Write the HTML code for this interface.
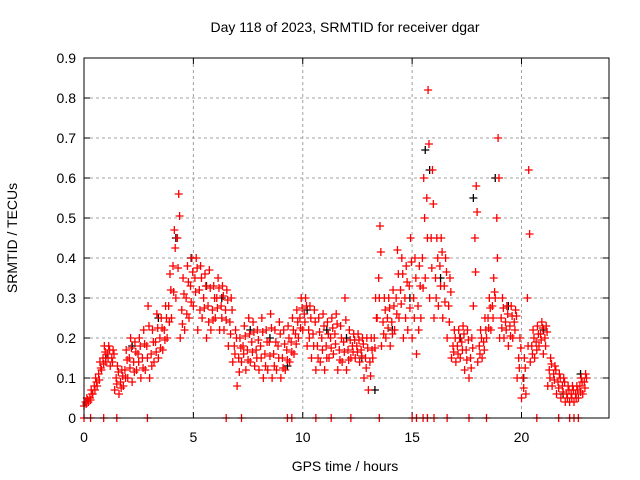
<!DOCTYPE html>
<html><head><meta charset="utf-8"><style>
body{margin:0;background:#fff;}
svg{display:block;font-family:"Liberation Sans",sans-serif;}
</style></head><body>
<svg id="chart" width="640" height="480" viewBox="0 0 640 480">
<rect x="0" y="0" width="640" height="480" fill="#fff"/>
<text x="345" y="32" font-size="14" text-anchor="middle">Day 118 of 2023, SRMTID for receiver dgar</text>
<text x="345" y="471" font-size="14" text-anchor="middle">GPS time / hours</text>
<text x="17" y="238" font-size="14" text-anchor="middle" transform="rotate(-90 17 238)">SRMTID / TECUs</text>
<g id="grid"></g><g id="ticks"></g><g id="black"></g><g id="red"></g>
<rect x="84" y="58" width="525" height="360" fill="none" stroke="#000" stroke-width="1"/>
</svg>
<script>
const xTicks=[0,5,10,15,20];
const yTicks=[0,0.1,0.2,0.3,0.4,0.5,0.6,0.7,0.8,0.9];
const yTickLabels=["0","0.1","0.2","0.3","0.4","0.5","0.6","0.7","0.8","0.9"];
const lo=[.03,.04,.06,.08,.12,.14,.13,.07,.06,.08,.10,.09,.12,.10,.12,.10,.14,.15,.17,.20,.25,.30,.20,.22,.25,.28,.22,.25,.20,.22,.25,.22,.22,.18,.14,.08,.14,.12,.14,.13,.12,.10,.12,.10,.12,.10,.12,.14,.16,.20,.22,.18,.15,.12,.14,.12,.15,.16,.12,.14,.12,.15,.15,.14,.10,.07,.15,.25,.18,.20,.18,.22,.25,.20,.22,.20,.16,.25,.35,.30,.25,.28,.25,.20,.15,.14,.15,.12,.10,.28,.14,.15,.20,.22,.30,.20,.20,.18,.20,.10,.05,.06,.14,.15,.18,.16,.08,.08,.06,.05,.04,.04,.04,.05,.06];
const mid=[.04,.05,.08,.11,.15,.16,.15,.10,.09,.12,.15,.14,.16,.15,.18,.16,.19,.20,.22,.28,.38,.45,.27,.30,.33,.35,.32,.30,.28,.27,.30,.28,.27,.24,.18,.15,.18,.17,.19,.17,.18,.16,.19,.16,.18,.15,.17,.19,.21,.25,.26,.22,.21,.18,.20,.18,.20,.21,.17,.19,.17,.18,.18,.17,.15,.14,.20,.35,.24,.25,.24,.30,.32,.30,.33,.30,.28,.40,.55,.45,.35,.38,.33,.28,.18,.18,.19,.17,.15,.45,.18,.19,.25,.28,.50,.25,.24,.23,.24,.15,.10,.30,.18,.19,.21,.20,.12,.11,.09,.08,.06,.06,.06,.08,.09];
const hi=[.05,.07,.10,.14,.18,.18,.17,.13,.12,.17,.20,.19,.20,.22,.28,.22,.26,.25,.28,.36,.47,.56,.35,.38,.40,.40,.38,.36,.37,.33,.35,.33,.32,.30,.22,.20,.23,.25,.24,.22,.25,.22,.26,.22,.24,.22,.23,.25,.27,.30,.30,.28,.27,.25,.26,.24,.25,.26,.23,.30,.22,.21,.21,.20,.20,.20,.30,.48,.30,.30,.32,.42,.40,.38,.45,.40,.38,.60,.82,.62,.45,.45,.40,.35,.22,.22,.23,.22,.20,.58,.22,.25,.30,.35,.70,.30,.28,.28,.27,.20,.15,.62,.22,.23,.24,.23,.15,.13,.11,.10,.08,.08,.08,.10,.11];
const zeroTimes=[0,0.3,0.9,1.5,2.9,6.5,7.2,9.3,9.5,10.6,11.3,12.2,13.5,15.0,15.2,15.5,15.7,16.0,16.6,17.6,18.4,20.7,21.7,22.2,22.4,22.6];
const blackT=[1,2.2,3.4,4.2,4.9,5.6,6.3,7.6,8.5,9.3,10.2,11.1,12.0,12.7,13.3,14.1,14.9,15.6,15.8,16.3,17.2,17.8,18.8,19.4,20.1,21.0,21.9,22.7];
const blackV=[.15,.18,.25,.45,.40,.33,.30,.22,.20,.13,.27,.22,.20,.15,.07,.22,.30,.67,.62,.35,.20,.55,.60,.28,.10,.22,.06,.11];
const x=t=>84+t*525/24, y=v=>418-v*400;
const NS="http://www.w3.org/2000/svg";
const grid=document.getElementById('grid'),ticks=document.getElementById('ticks');
function mk(p,tag,a){const e=document.createElementNS(NS,tag);for(const k in a)e.setAttribute(k,a[k]);p.appendChild(e);return e;}
xTicks.forEach(t=>{
 const g=mk(grid,'line',{x1:x(t),x2:x(t),y1:58,y2:418,stroke:'#a0a0a0','stroke-dasharray':'3,3'});
 
 
 mk(ticks,'line',{x1:x(t),x2:x(t),y1:418,y2:412,stroke:'#000'});
 mk(ticks,'line',{x1:x(t),x2:x(t),y1:58,y2:64,stroke:'#000'});
 const l=mk(ticks,'text',{x:x(t),y:442,'font-size':14,'text-anchor':'middle'});l.textContent=t;
 
 
});
yTicks.forEach((v,i)=>{
 const g=mk(grid,'line',{x1:84,x2:609,y1:y(v),y2:y(v),stroke:'#a0a0a0','stroke-dasharray':'3,3'});
 
 
 mk(ticks,'line',{x1:84,x2:90,y1:y(v),y2:y(v),stroke:'#000'});
 mk(ticks,'line',{x1:609,x2:603,y1:y(v),y2:y(v),stroke:'#000'});
 const l=mk(ticks,'text',{x:76,y:y(v)+5,'font-size':14,'text-anchor':'end'});l.textContent=yTickLabels[i];
 
 
});
function plus(p,t,v,c){
 const px=x(t),py=y(v);
 const e=mk(p,'path',{d:`M${px-4},${py}h8M${px},${py-4}v8`,stroke:c,'stroke-width':1.3,fill:'none'});
 
 
}
const bl=document.getElementById('black'),rd=document.getElementById('red');
blackT.forEach((t,i)=>plus(bl,t,blackV[i],'#000'));
lo.forEach((v,i)=>{const t=i*0.2;plus(rd,t,v,'#f00');plus(rd,t+0.07,mid[i],'#f00');plus(rd,t+0.13,hi[i],'#f00');
 plus(rd,t+0.1,(v+mid[i])/2,'#f00');plus(rd,t+0.17,(mid[i]+hi[i])/2,'#f00');});
zeroTimes.forEach(t=>plus(rd,t,0,'#f00'));
</script>
</body></html>
